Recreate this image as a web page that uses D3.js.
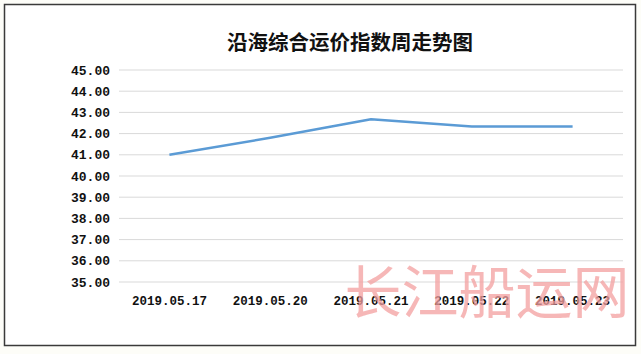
<!DOCTYPE html>
<html lang="zh">
<head>
    <meta charset="UTF-8">
    <script src="https://d3js.org/d3.v7.min.js"></script>
    <style>
        body {margin: 0; background-color: #fdfdf8}
        svg {display: block}
    </style>
</head>
<body>
<svg class="chart"></svg>
<script type="text/javascript">
    let title = '沿海综合运价指数周走势图';
    let dates = ['2019.05.17', '2019.05.20', '2019.05.21', '2019.05.22', '2019.05.23'];
    let values = [41.00, 41.80, 42.68, 42.33, 42.33];
    let y_ticks = [35, 36, 37, 38, 39, 40, 41, 42, 43, 44, 45];
    let watermark = '长江船运网';

    let chart_width = 641;
    let chart_height = 354;
    let plot_left = 119, plot_right = 623, plot_top = 70, plot_bottom = 282;

    let svg = d3.select('.chart')
        .attr('width', chart_width)
        .attr('height', chart_height);

    svg.append('rect')
        .attr('x', 4.5).attr('y', 4.5)
        .attr('width', 631).attr('height', 341)
        .attr('fill', '#ffffff')
        .attr('stroke', '#3a3a3a')
        .attr('stroke-width', 1.5);

    let x = d3.scaleBand()
        .domain(dates)
        .range([plot_left, plot_right]);

    let y = d3.scaleLinear()
        .domain([35, 45])
        .range([plot_bottom, plot_top]);

    // grid lines
    svg.append('g').selectAll('line').data(y_ticks).enter().append('line')
        .attr('x1', plot_left).attr('x2', plot_right)
        .attr('y1', d => y(d)).attr('y2', d => y(d))
        .attr('stroke', '#d9d9d9')
        .attr('stroke-width', 1);

    // y labels
    svg.append('g').selectAll('text').data(y_ticks).enter().append('text')
        .attr('x', 110)
        .attr('y', d => y(d) + 4.5)
        .attr('text-anchor', 'end')
        .attr('font-family', 'Liberation Mono, monospace')
        .attr('font-weight', 'bold')
        .attr('font-size', '13px')
        .attr('fill', '#111')
        .text(d => d.toFixed(2));

    // x labels
    svg.append('g').selectAll('text').data(dates).enter().append('text')
        .attr('x', d => x(d) + x.bandwidth() / 2)
        .attr('y', 305)
        .attr('text-anchor', 'middle')
        .attr('font-family', 'Liberation Mono, monospace')
        .attr('font-weight', 'bold')
        .attr('font-size', '12.5px')
        .attr('fill', '#111')
        .text(d => d);

    let line = d3.line()
        .x((d, i) => x(dates[i]) + x.bandwidth() / 2)
        .y(d => y(d));

    svg.append('path')
        .datum(values)
        .attr('d', line)
        .attr('fill', 'none')
        .attr('stroke', '#5b9bd5')
        .attr('stroke-width', 2.5)
        .attr('stroke-linejoin', 'round');

    svg.append('text')
        .attr('x', 350)
        .attr('y', 50)
        .attr('text-anchor', 'middle')
        .attr('font-family', 'Noto Sans CJK SC')
        .attr('font-weight', 'bold')
        .attr('font-size', '20.5px')
        .attr('fill', '#111')
        .text(title);

    svg.append('text')
        .attr('x', 487)
        .attr('y', 313)
        .attr('text-anchor', 'middle')
        .attr('font-family', 'Noto Sans CJK SC')
        .attr('font-size', '57px')
        .attr('fill', '#f4a0a0')
        .attr('opacity', 0.75)
        .text(watermark);
</script>
</body>
</html>
